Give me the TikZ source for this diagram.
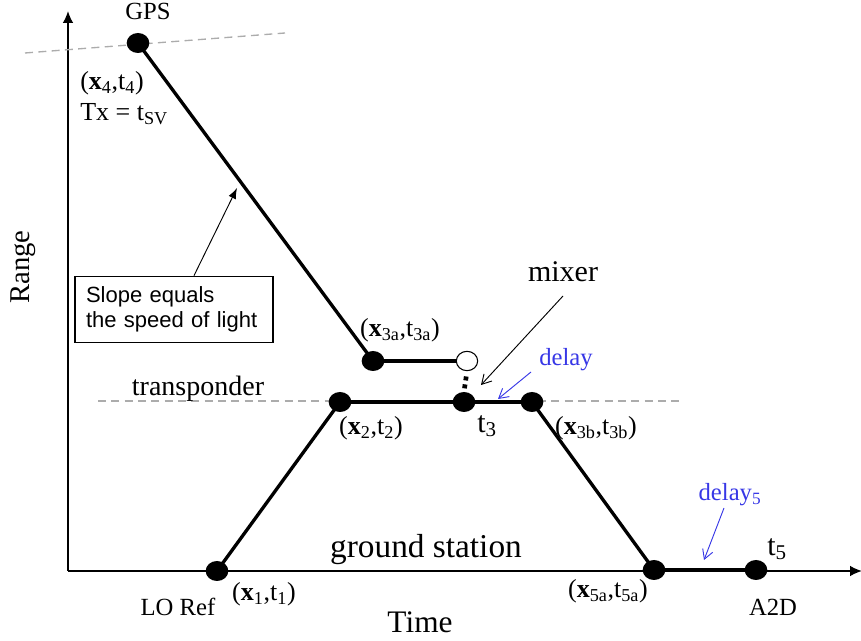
\documentclass[tikz,border=0pt]{standalone}
\usepackage{fontspec}
\setmainfont{Liberation Serif}
\newfontfamily\arialf{Liberation Sans}
\usetikzlibrary{shapes.geometric,arrows.meta}
\definecolor{dblue}{RGB}{55,55,230}
\newcommand{\sbs}[1]{\textsubscript{#1}}
\begin{document}
\begin{tikzpicture}[x=0.75pt,y=-0.75pt,
  dot/.style={ellipse,fill=black,minimum width=17pt,minimum height=15pt,inner sep=0pt},
  odot/.style={ellipse,draw=black,line width=0.8pt,fill=white,minimum width=16pt,minimum height=14.5pt,inner sep=0pt},
  pathline/.style={line width=2.5pt},
  axisline/.style={line width=1.2pt,-{Latex[length=9pt,width=8pt]}},
  guide/.style={draw=gray!65,line width=1pt,dash pattern=on 6pt off 4pt},
  note/.style={-{Straight Barb[length=7pt,width=8pt]},line width=0.7pt},
  bignum/.style={font=\fontsize{22.5}{24}\selectfont,inner sep=0pt},
  coord/.style={font=\fontsize{19.5}{21}\selectfont,inner sep=0pt},
  smalllbl/.style={font=\fontsize{18.5}{20}\selectfont,inner sep=0pt},
  bluelbl/.style={font=\fontsize{18.5}{20}\selectfont,inner sep=0pt,text=dblue},
  box/.style={draw,line width=0.8pt,minimum width=148.5pt,minimum height=50pt,
    inner xsep=8pt,text width=132pt,align=left,font=\arialf\fontsize{16.5}{18.75}\selectfont},
]
\useasboundingbox (0,0) rectangle (861,641);

% axes
\coordinate (O) at (68,571);
\coordinate (ytop) at (68,11);
\coordinate (xend) at (862,571);
\draw[axisline] (O) -- (ytop);
\draw[axisline] (O) -- (xend);

% guide lines
\coordinate (gA) at (25,53);
\coordinate (gB) at (285,33);
\coordinate (tA) at (98,401);
\coordinate (tB) at (680,401);
\draw[guide] (gA) -- (gB);
\draw[guide] (tA) -- (tB);

% event points
\node[dot] (gps) at (138,43) {};
\node[dot] (x3a) at (373,361) {};
\node[odot] (mix) at (467,361) {};
\node[dot] (x2) at (340,402) {};
\node[dot] (t3) at (464,402) {};
\node[dot] (x3b) at (532,402) {};
\node[dot] (x1) at (217,571) {};
\node[dot] (x5a) at (654,570) {};
\node[dot] (a2d) at (756,570) {};

% world lines
\draw[pathline] (gps.center) -- (x3a.center);
\draw[pathline] (x3a.center) -- (mix);
\draw[pathline] (x1.center) -- (x2.center);
\draw[pathline] (x2.center) -- (t3.center);
\draw[pathline] (t3.center) -- (x3b.center);
\draw[pathline] (x3b.center) -- (x5a.center);
\draw[pathline] (x5a.center) -- (a2d.center);
\draw[line width=3.5pt,dash pattern=on 0pt off 4pt on 3pt off 3pt on 3pt off 20pt] (mix.south) -- (t3.north);

% labels
\node[smalllbl] (gpsl) at (148,11) {GPS};
\node[coord,anchor=west] (x4l) at (80,83) {(\textbf{x}\sbs{4},t\sbs{4})};
\node[coord,anchor=west] (txl) at (80,114) {Tx = t\sbs{SV}};
\node[font=\fontsize{21.5}{23}\selectfont,inner sep=0pt,rotate=90] (range) at (23,267) {Range};
\node[font=\fontsize{23.5}{25}\selectfont,inner sep=0pt] (time) at (420,622) {Time};
\node[font=\fontsize{25}{27}\selectfont,inner sep=0pt] (ground) at (426,550) {ground station};
\node[font=\fontsize{21}{23}\selectfont,inner sep=0pt] (transp) at (198,389) {transponder};
\node[bignum] (mixer) at (563,272) {mixer};
\node[bluelbl] (delay) at (566,360) {delay};
\node[bluelbl] (delay5) at (730,495) {delay\sbs{5}};
\node[bignum] (t5l) at (777,549) {t\sbs{5}};
\node[bignum] (t3l) at (487,426) {t\sbs{3}};
\node[smalllbl] (a2dl) at (773,607) {A2D};
\node[smalllbl] (lorefl) at (178,607) {LO Ref};
\node[coord] (x1l) at (264,594) {(\textbf{x}\sbs{1},t\sbs{1})};
\node[coord] (x2l) at (371,428) {(\textbf{x}\sbs{2},t\sbs{2})};
\node[coord] (x3al) at (400,330) {(\textbf{x}\sbs{3a},t\sbs{3a})};
\node[coord] (x3bl) at (596,428) {(\textbf{x}\sbs{3b},t\sbs{3b})};
\node[coord] (x5al) at (608,591) {(\textbf{x}\sbs{5a},t\sbs{5a})};

% annotation box and arrows
\node[box] (slope) at (174,309.5) {Slope equals\\the speed of light};
\coordinate (slopetip) at (237,188);
\draw[line width=0.7pt,-{Latex[length=8pt,width=6pt]}] ([xshift=15pt]slope.north) -- (slopetip);
\coordinate (mixtip) at (481,385);
\draw[note] (mixer) ++(0,24) -- (mixtip);
\coordinate (delaytip) at (498,399);
\draw[note,draw=dblue] (delay) ++(-35,12) -- (delaytip);
\coordinate (delay5tip) at (704,560);
\draw[note,draw=dblue] (delay5) ++(-6,13) -- (delay5tip);
\end{tikzpicture}
\end{document}
